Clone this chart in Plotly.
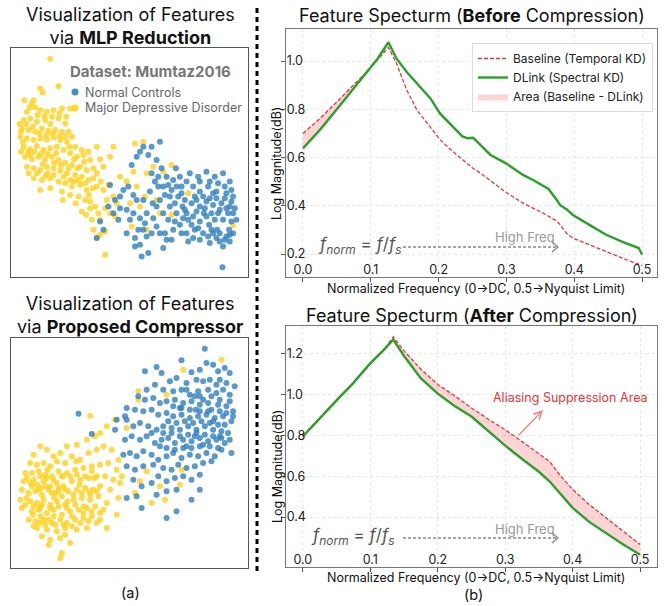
import plotly.graph_objects as go

W, H = 665, 606
FONT = "Inter"

# ---------------- data: scatter panels (unitless embedding coordinates) ----------------
mlp_mdd = [(150,175),(120,265),(127,277),(175,258),
    (100,300),(95,310),(105,322),(80,335),(120,330),(140,335),(160,330),(185,325),(210,325),(70,360),(90,355),
    (110,365),(135,360),(150,372),(175,355),(195,370),(65,385),(85,390),(105,395),(125,385),(145,392),(165,390),
    (185,395),(205,395),(60,410),(80,415),(100,420),(120,415),(140,418),(160,412),(180,420),(200,425),
    (70,440),(90,448),(110,438),(130,450),(150,445),(170,440),(190,450),(210,460),(230,470),(250,465),(270,480),
    (290,440),(340,440),(75,470),(95,478),(115,470),(135,478),(155,470),(175,480),(195,488),(215,495),(240,500),
    (260,510),(280,505),(300,478),(80,500),(100,505),(120,510),(140,500),(160,505),(180,512),(200,520),(225,525),
    (245,530),(265,540),(290,520),(310,500),(330,470),(100,535),(125,540),(150,535),(175,545),(195,550),(215,560),
    (240,555),(260,570),(120,570),(150,565),(185,575),(210,585),(235,590),(255,600),(270,605),(285,620),(295,640),
    (275,660),(300,660),(280,690),(300,705),(315,695),(330,640),(320,600),(310,570),(340,590),(315,765),(290,715),
    (360,530),(380,545),(405,430),(430,425),(400,515),(410,560),(440,520),(460,500),(490,515),(515,495),(390,610),
    (420,620),(350,610),(345,650),(395,680),(440,690),(470,600),(515,645),(565,580),(700,678),(480,640),(435,590),
    (68,425),(88,465),(128,492),(168,460),(208,440),(232,505),(252,485),(142,520),(62,455),(222,545),(188,600),
    (278,565),(302,545),(325,555),(266,585),(226,610),(245,635),(315,625),
    (72,300),(88,322),(112,345),(132,348),(155,350),(178,340),(198,350),(58,372),(78,372),(98,380),(118,400),
    (138,405),(158,400),(178,408),(195,410),(215,410),(225,440),(245,450),(265,455),(62,395),(82,455),(102,455),
    (122,462),(142,462),(162,488),(182,495),(205,505),(222,478),(85,520),(110,520),(135,528),(160,525),(190,530),
    (210,540),(235,540),(255,550),(280,535),(290,560),(270,625),(258,645)]
mlp_nc = [(290,715),(300,665),(325,620),(330,555),(345,600),(340,640),(310,690),(355,660),
    (370,570),(385,560),(400,585),(395,495),(410,470),(420,455),(430,440),(455,440),(445,465),(400,640),(420,655),
    (435,670),(380,700),(405,715),(420,735),(440,710),(360,625),(390,660),(430,600),(450,575),(425,770),(405,740),
    (445,760),(480,425),(470,480),(485,505),(500,530),(520,540),(540,530),(560,545),(475,560),(495,585),(515,570),
    (535,590),(555,600),(470,620),(490,640),(510,620),(530,640),(550,655),(470,680),(495,700),(520,690),(540,675),
    (560,700),(490,745),(515,720),(545,580),(505,660),(480,600),(525,610),(555,630),(570,520),(595,530),(620,515),
    (645,530),(670,520),(690,545),(580,560),(600,575),(625,560),(650,575),(680,580),(700,590),(575,610),(600,620),
    (620,605),(640,615),(665,610),(690,620),(580,650),(600,665),(620,650),(645,660),(670,660),(695,665),(710,660),
    (585,690),(610,700),(635,690),(660,700),(680,710),(700,700),(660,725),(675,720),(690,725),(670,740),(600,720),
    (630,730),(668,803),(560,640),(640,580),(685,640),(655,640),(455,520),(465,545),(505,555),(528,505),(590,600),
    (612,640),(628,675),(652,690),(688,690),(705,625),(575,675),(548,620),(458,610),(415,690),(440,640),
    (600,545),(630,545),(655,550),(675,560),(695,570),(585,590),(610,590),(630,595),(650,595),(675,595),(695,605),
    (565,660),(590,635),(615,625),(635,640),(660,630),(680,625),(700,640),(595,685),(625,710),(650,715),(690,705),
    (640,700),(475,530),(490,560),(510,590),(530,560),(545,560),(460,655),(480,700),(500,720),(525,665),(545,700),
    (565,725),(580,715),(455,700),(430,690),(410,600),(380,630),(360,590)]
comp_mdd = [(180,805),(185,790),(270,378),(415,305),(665,210),(550,240),(500,315),(415,330),
    (100,495),(120,470),(140,480),(160,500),(180,490),(200,470),(230,465),(260,450),(285,440),(300,430),(320,410),
    (345,390),(380,415),(90,520),(110,525),(130,520),(150,530),(170,515),(195,520),(215,500),(240,510),(265,490),
    (290,480),(310,470),(335,480),(355,510),(75,550),(95,550),(115,545),(135,555),(155,560),(175,545),(200,550),
    (225,540),(250,535),(275,530),(300,525),(325,520),(350,540),(365,560),(70,575),(90,580),(110,585),(130,575),
    (150,590),(170,580),(190,590),(215,575),(240,570),(265,565),(290,560),(315,560),(340,570),(360,580),(65,600),
    (85,610),(105,605),(125,615),(145,600),(165,610),(185,620),(205,605),(230,600),(255,595),(280,600),(300,590),
    (330,600),(90,635),(110,640),(130,630),(150,645),(170,635),(195,645),(220,630),(245,625),(270,630),(295,620),
    (320,640),(355,625),(65,655),(95,665),(115,660),(140,670),(160,660),(185,675),(210,665),(235,660),(260,655),
    (285,650),(310,660),(85,690),(105,695),(130,690),(155,700),(180,690),(200,700),(225,690),(250,685),(275,680),
    (300,690),(320,715),(110,715),(140,720),(170,725),(195,715),(230,720),(260,715),(290,700),(125,740),(150,750),
    (180,745),(210,760),(145,765),(405,610),(420,575),(440,545),(480,590),(545,540),(540,585),(495,630),(455,640),
    (350,675),(78,625),(122,595),(162,625),(202,635),(238,585),(268,605),(142,540),(188,560),(228,515),(98,675),
    (118,700),(160,680),(215,710),(250,650),(282,565),(120,655),(175,605),(60,630),
    (80,565),(100,570),(120,560),(140,565),(160,570),(185,560),(210,560),(230,555),(255,560),(275,545),(95,590),
    (115,600),(135,590),(155,610),(175,595),(195,600),(220,615),(245,610),(270,615),(290,605),(75,645),(100,650),
    (125,645),(150,655),(175,650),(200,655),(225,645),(250,670),(275,665),(300,670),(100,710),(120,680),(145,690),
    (165,705),(190,705),(215,680),(240,700),(265,695),(135,705),(195,735)]
comp_nc = [(235,372),(275,433),(375,380),(345,420),
    (615,177),(545,212),(435,245),(470,232),(485,250),(575,248),(600,240),(620,220),(640,225),(655,245),(675,235),
    (690,250),(510,275),(530,265),(560,280),(590,270),(610,275),(630,270),(660,270),(680,280),(705,290),(440,300),
    (465,285),(490,300),(520,305),(545,300),(570,315),(595,305),(625,300),(650,310),(670,300),(690,315),(415,320),
    (435,330),(460,325),(480,340),(500,335),(525,330),(550,340),(575,335),(600,345),(625,340),(655,345),(680,350),
    (700,365),(380,355),(405,360),(430,365),(455,360),(475,375),(500,370),(520,380),(545,375),(570,385),(595,380),
    (620,375),(645,385),(670,380),(695,395),(350,390),(380,390),(400,410),(420,400),(445,410),(470,420),(490,410),
    (515,415),(540,420),(565,410),(590,420),(615,410),(640,420),(665,425),(685,430),(375,450),(395,440),(420,450),
    (440,440),(465,460),(485,450),(505,445),(525,460),(550,450),(575,455),(600,445),(625,455),(650,450),(675,460),
    (370,495),(390,490),(410,500),(430,485),(455,495),(475,510),(500,500),(520,490),(545,505),(570,495),(595,500),
    (620,490),(645,500),(665,480),(695,490),(380,530),(405,540),(430,530),(460,525),(490,535),(515,540),(535,525),
    (560,535),(585,530),(610,520),(635,515),(400,570),(425,590),(455,580),(475,560),(500,575),(525,565),(550,560),
    (575,570),(600,555),(380,625),(410,620),(470,615),(500,605),(530,600),(575,630),(600,600),(425,655),(500,685),
    (530,665),(640,395),(660,440),(610,465),(585,440),(560,470),(540,355),(588,360),(635,360),(600,320),(650,285),
    (560,300),(585,320),(610,330),(635,320),(660,330),(690,335),(520,350),(545,355),(570,360),(600,365),(625,365),
    (660,365),(680,370),(700,380),(505,395),(530,400),(555,395),(580,400),(605,395),(630,400),(655,405),(675,405),
    (490,430),(515,430),(540,440),(565,435),(590,430),(615,435),(640,440),(665,445),(690,450),(455,430),(480,470),
    (500,475),(525,480),(550,475),(575,475),(600,470),(630,470),(655,475)]

# ---------------- data: spectrum panels ----------------
freq_before = [0.000, 0.025, 0.050, 0.075, 0.094, 0.110, 0.126, 0.138, 0.153, 0.168, 0.188, 0.202, 0.215,
               0.227, 0.235, 0.243, 0.251, 0.262, 0.276, 0.300, 0.325, 0.340, 0.354, 0.362, 0.374, 0.379,
               0.389, 0.398, 0.423, 0.447, 0.472, 0.485, 0.495, 0.500]
base_before = [0.700, 0.762, 0.831, 0.900, 0.956, 1.005, 1.057, 0.990, 0.880, 0.797, 0.727, 0.675, 0.640,
               0.610, 0.592, 0.573, 0.555, 0.535, 0.505, 0.455, 0.410, 0.390, 0.370, 0.357, 0.337, 0.322,
               0.285, 0.266, 0.237, 0.209, 0.180, 0.168, 0.158, 0.152]
dlink_before = [0.638, 0.715, 0.800, 0.886, 0.956, 1.010, 1.078, 1.010, 0.955, 0.907, 0.845, 0.783, 0.745,
                0.710, 0.688, 0.680, 0.682, 0.652, 0.612, 0.575, 0.527, 0.506, 0.484, 0.470, 0.425, 0.404,
                0.385, 0.362, 0.320, 0.280, 0.250, 0.236, 0.225, 0.198]

freq_after = [0.000, 0.025, 0.050, 0.075, 0.100, 0.120, 0.134, 0.150, 0.175, 0.200, 0.225, 0.250, 0.275,
              0.300, 0.325, 0.350, 0.366, 0.380, 0.400, 0.425, 0.450, 0.475, 0.500]
base_after = [0.800, 0.890, 0.975, 1.060, 1.150, 1.220, 1.284, 1.215, 1.125, 1.050, 0.995, 0.935, 0.880,
              0.828, 0.770, 0.712, 0.672, 0.610, 0.535, 0.460, 0.395, 0.330, 0.265]
dlink_after = [0.795, 0.885, 0.972, 1.058, 1.155, 1.220, 1.270, 1.190, 1.080, 1.005, 0.945, 0.893, 0.820,
               0.750, 0.685, 0.622, 0.574, 0.520, 0.445, 0.375, 0.318, 0.265, 0.215]

x_ticks = [0.0, 0.1, 0.2, 0.3, 0.4, 0.5]
y_ticks_before = [0.2, 0.4, 0.6, 0.8, 1.0]
y_ticks_after = [0.4, 0.6, 0.8, 1.0, 1.2]

# ---------------- styling ----------------
BLUE = "#2f7fbf"
YELLOW = "#ffd11a"
RED = "#e3363b"
GREEN = "#2ca02c"
FILL = "rgba(255,120,120,0.32)"


def px(x):
    return x / W


def py(y):
    return 1 - y / H


fig = go.Figure()


def add_scatter(points, color, xa, ya):
    fig.add_trace(go.Scatter(
        x=[p[0] for p in points], y=[p[1] for p in points], mode="markers",
        marker=dict(size=6, color=color, opacity=0.8, line=dict(width=0)),
        xaxis=xa, yaxis=ya, showlegend=False, hoverinfo="skip"))


add_scatter(mlp_mdd, YELLOW, "x", "y")
add_scatter(mlp_nc, BLUE, "x", "y")
add_scatter(comp_mdd, YELLOW, "x2", "y2")
add_scatter(comp_nc, BLUE, "x2", "y2")


def add_spectrum(freq, base, dlink, xa, ya, legend):
    upper = [max(b, d) for b, d in zip(base, dlink)]
    fig.add_trace(go.Scatter(x=freq, y=dlink, mode="lines", line=dict(width=0, color=GREEN),
                             xaxis=xa, yaxis=ya, showlegend=False, hoverinfo="skip"))
    fig.add_trace(go.Scatter(x=freq, y=upper, mode="lines", line=dict(width=0, color=FILL),
                             fill="tonexty", fillcolor=FILL, name="Area (Baseline - DLink)",
                             legendrank=3, xaxis=xa, yaxis=ya, showlegend=legend, hoverinfo="skip"))
    fig.add_trace(go.Scatter(x=freq, y=base, mode="lines", name="Baseline (Temporal KD)",
                             line=dict(color=RED, width=1.3, dash="4px,2px"), legendrank=1,
                             xaxis=xa, yaxis=ya, showlegend=legend))
    fig.add_trace(go.Scatter(x=freq, y=dlink, mode="lines", name="DLink (Spectral KD)",
                             line=dict(color=GREEN, width=2.4), legendrank=2,
                             xaxis=xa, yaxis=ya, showlegend=legend))


add_spectrum(freq_before, base_before, dlink_before, "x3", "y3", True)
add_spectrum(freq_after, base_after, dlink_after, "x4", "y4", False)

scatter_axis = dict(showline=True, linecolor="#555", linewidth=1.2, mirror=True, showticklabels=False,
                    showgrid=False, zeroline=False, ticks="", fixedrange=True)
spec_axis = dict(showline=True, linecolor="#777", linewidth=1.3, mirror=True, showgrid=True,
                 gridcolor="#e6e6e6", griddash="dot", gridwidth=1, zeroline=False, ticks="outside",
                 ticklen=4, tickcolor="#555", ticklabelposition="inside", ticklabeloverflow="allow",
                 tickfont=dict(family=FONT, size=12.5, color="#222"))

fig.update_layout(
    width=W, height=H, margin=dict(l=0, r=0, t=0, b=0),
    paper_bgcolor="white", plot_bgcolor="white",
    font=dict(family=FONT, color="#111"),
    xaxis=dict(domain=[px(11), px(248)], range=[32, 745], **scatter_axis),
    yaxis=dict(domain=[py(277), py(48)], range=[832, 143], **scatter_axis),
    xaxis2=dict(domain=[px(11), px(248)], range=[32, 745], anchor="y2", **scatter_axis),
    yaxis2=dict(domain=[py(568), py(338)], range=[835, 145], anchor="x2", **scatter_axis),
    xaxis3=dict(domain=[px(286), px(657)], range=[-0.025, 0.522], anchor="y3", tickvals=x_ticks,
                tickformat=".1f", **spec_axis),
    yaxis3=dict(domain=[py(277), py(29)], range=[0.105, 1.133], anchor="x3", tickvals=y_ticks_before,
                tickformat=".1f", **spec_axis),
    xaxis4=dict(domain=[px(286), px(657)], range=[-0.025, 0.525], anchor="y4", tickvals=x_ticks,
                tickformat=".1f", **spec_axis),
    yaxis4=dict(domain=[py(567), py(326)], range=[0.155, 1.337], anchor="x4", tickvals=y_ticks_after,
                tickformat=".1f", **spec_axis),
    legend=dict(x=px(472), y=py(43), xanchor="left", yanchor="top", bgcolor="rgba(255,255,255,0.92)",
                bordercolor="#dcdcdc", borderwidth=1, font=dict(family=FONT, size=12, color="#222"),
                tracegroupgap=0, traceorder="normal", itemwidth=30),
)

ann = []


def text(x, y, s, size, color="#111", xanchor="center", angle=0):
    ann.append(dict(x=px(x), y=py(y), xref="paper", yref="paper", text=s, showarrow=False,
                    xanchor=xanchor, yanchor="middle", textangle=angle,
                    font=dict(family=FONT, size=size, color=color)))


text(130, 26, "Visualization of Features<br>via <b>MLP Reduction</b>", 18)
text(130, 315, "Visualization of Features<br>via <b>Proposed Compressor</b>", 18)
text(472, 15, "Feature Specturm (<b>Before</b> Compression)", 18)
text(472, 315, "Feature Specturm (<b>After</b> Compression)", 18)
text(277, 164, "Log Magnitude(dB)", 12.5, angle=-90)
text(277, 467, "Log Magnitude(dB)", 12.5, angle=-90)
text(476, 288, "Normalized Frequency (0→DC, 0.5→Nyquist Limit)", 12.5)
text(476, 577, "Normalized Frequency (0→DC, 0.5→Nyquist Limit)", 12.5)
text(130, 592, "(a)", 14.5)
text(473, 594, "(b)", 14.5)
fnorm = "<i>f</i><sub><i>norm</i></sub> = <i>f</i>/<i>f</i><sub><i>s</i></sub>"
text(360, 245, fnorm, 17, color="#555")
text(353, 536, fnorm, 17, color="#555")
text(525, 237, "High Freq", 13, color="#999")
text(525, 529, "High Freq", 13, color="#999")
text(570, 397, "Aliasing Suppression Area", 12.5, color=RED)
text(150, 71, "<b>Dataset: Mumtaz2016</b>", 15, color="#777")
text(83, 92, "Normal Controls", 12.5, color="#666", xanchor="left")
text(83, 108, "Major Depressive Disorder", 12.5, color="#666", xanchor="left")

ann.append(dict(x=px(543), y=py(410), xref="paper", yref="paper", text="", showarrow=True,
                ax=-26, ay=27, arrowcolor="#f08080", arrowwidth=1.3, arrowhead=5, arrowsize=1.2))
fig.update_layout(annotations=ann)

shapes = []
# dashed separator
shapes.append(dict(type="line", xref="paper", yref="paper", x0=px(257), x1=px(257), y0=py(8), y1=py(574),
                   line=dict(color="black", width=3, dash="5px,4px")))
# dashed "High Freq" arrows
for yy in (247, 538):
    shapes.append(dict(type="line", xref="paper", yref="paper", x0=px(403), x1=px(557), y0=py(yy), y1=py(yy),
                       line=dict(color="#888", width=1.3, dash="3px,2px")))
    shapes.append(dict(type="path", xref="paper", yref="paper",
                       path=f"M {px(552)},{py(yy-5)} L {px(558)},{py(yy)} L {px(552)},{py(yy+5)}",
                       line=dict(color="#888", width=1.3)))
# scatter legend markers
for yy, c in ((92, BLUE), (108, YELLOW)):
    shapes.append(dict(type="circle", xref="paper", yref="paper", x0=px(71.5), x1=px(78.5),
                       y0=py(yy + 3.5), y1=py(yy - 3.5), fillcolor=c, line=dict(width=0), opacity=0.9))
fig.update_layout(shapes=shapes)

fig.write_html("out.html", config={"displayModeBar": False},
               post_script="document.body.style.margin='0';document.body.style.overflow='hidden';")
